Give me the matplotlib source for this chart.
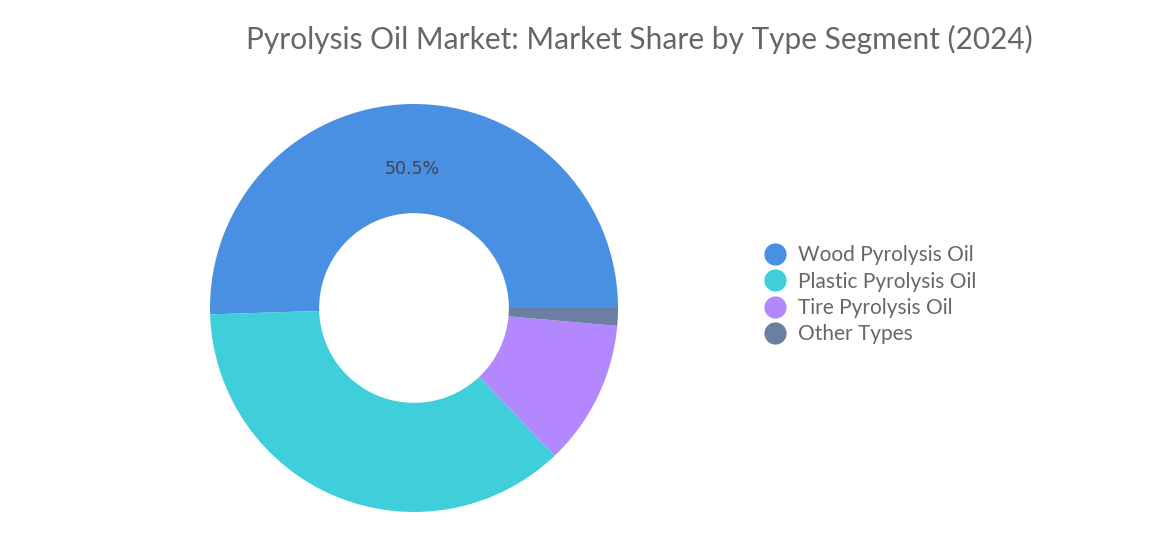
import matplotlib
matplotlib.use("Agg")
import matplotlib.pyplot as plt
from matplotlib.lines import Line2D

categories = ["Wood Pyrolysis Oil", "Plastic Pyrolysis Oil", "Tire Pyrolysis Oil", "Other Types"]
shares = [50.5, 36.6, 11.5, 1.4]
colors = ["#4A90E2", "#3ECFDA", "#B388FF", "#6B7FA3"]

plt.rcParams["font.family"] = ["Lato", "DejaVu Sans"]

fig = plt.figure(figsize=(11.68, 5.43), dpi=100)
ax = fig.add_axes([210 / 1168, 31 / 543, 408 / 1168, 408 / 543])

wedges, _ = ax.pie(shares, colors=colors, startangle=0, counterclock=True,
                   wedgeprops=dict(width=0.535, edgecolor="none"))
ax.set_xlim(-1, 1)
ax.set_ylim(-1, 1)
ax.set_aspect("equal")

# only the largest slice is labelled
ax.text(-0.01, 0.68, f"{shares[0]}%", ha="center", va="center",
        fontsize=12.5, color="#444444", family=["DejaVu Sans"])

fig.text(0.547, 0.928, "Pyrolysis Oil Market: Market Share by Type Segment (2024)",
         ha="center", va="center", fontsize=21.5, color="#666666")

handles = [Line2D([0], [0], marker="o", linestyle="none", markersize=16,
                  markerfacecolor=c, markeredgecolor="none") for c in colors]
fig.legend(handles, categories, loc="center left", bbox_to_anchor=(0.637, 0.457),
           frameon=False, fontsize=15, labelcolor="#666666",
           handletextpad=0.1, labelspacing=0.3, borderpad=0)

fig.savefig("out.png", dpi=100, facecolor="white")
